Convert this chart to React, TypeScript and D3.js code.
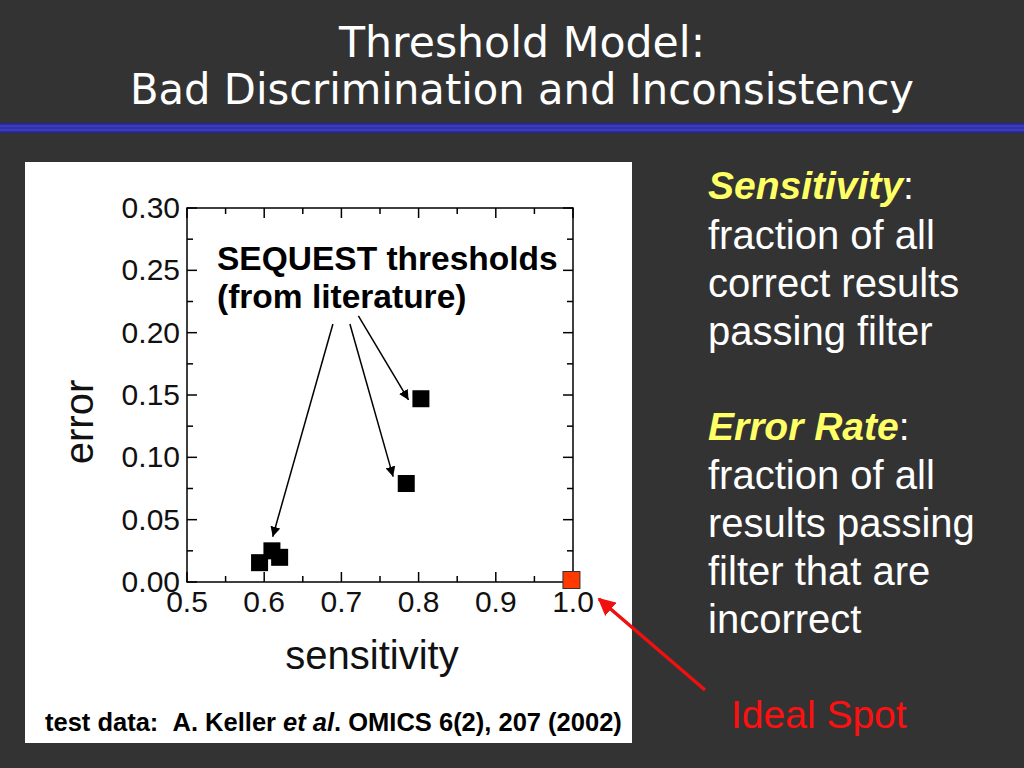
import React from "react";
import * as d3 from "d3";

const titleLines = ["Threshold Model:", "Bad Discrimination and Inconsistency"];
const xTicks = [0.5, 0.6, 0.7, 0.8, 0.9, 1.0];
const yTicks = [0.0, 0.05, 0.1, 0.15, 0.2, 0.25, 0.3];
const sequestSensitivity = [0.594, 0.61, 0.62, 0.784, 0.803];
const sequestError = [0.0155, 0.025, 0.0198, 0.079, 0.147];
const idealPoint = { sensitivity: 0.998, error: 0.0016 };
// annotation arrows in data coords: [fromX, fromY, toX, toY]
const arrowFrom = [[0.689, 0.207], [0.711, 0.207], [0.722, 0.2134]];
const arrowTo = [[0.611, 0.0363], [0.767, 0.0845], [0.787, 0.146]];
const annotationLines = ["SEQUEST thresholds", "(from literature)"];
const sensLines = ["fraction of all", "correct results", "passing filter"];
const errLines = ["fraction of all", "results passing", "filter that are", "incorrect"];

export default function App() {
  const W = 1024, H = 768;
  const left = 187, right = 573, top = 208, bottom = 582;
  const x = d3.scaleLinear().domain([0.5, 1.0]).range([left, right]);
  const y = d3.scaleLinear().domain([0, 0.3]).range([bottom, top]);
  const xMinor = d3.range(0.55, 1.0, 0.1);
  const yMinor = d3.range(0.025, 0.3, 0.05);
  const sans = "'Liberation Sans', Arial, sans-serif";
  const major = 10, minor = 6;
  const sq = 17;

  return (
    <div style={{ position: "fixed", left: 0, top: 0 }}>
      <svg width={W} height={H} style={{ display: "block" }}>
        <defs>
          <marker id="ah" viewBox="0 0 10 10" refX="10" refY="5" markerWidth="10" markerHeight="10" markerUnits="userSpaceOnUse" orient="auto">
            <path d="M0,0 L10,5 L0,10 z" fill="#000" />
          </marker>
          <marker id="ahr" viewBox="0 0 10 10" refX="9" refY="5" markerWidth="5" markerHeight="5" orient="auto">
            <path d="M0,0 L10,5 L0,10 z" fill="#f01010" />
          </marker>
        </defs>
        <rect x={0} y={0} width={W} height={H} fill="#333333" />
        {titleLines.map((t, i) => (
          <text key={i} x={522} y={57 + i * 47} textAnchor="middle" fill="#fff"
            fontFamily="'DejaVu Sans', sans-serif" fontSize={42}
            textLength={i === 0 ? 366 : 784} lengthAdjust="spacingAndGlyphs">{t}</text>
        ))}
        <rect x={0} y={122.7} width={W} height={10.6} fill="#2a2a78" />
        <rect x={0} y={124.7} width={W} height={6.6} fill="#3a3ac2" />
        <rect x={0} y={127.3} width={W} height={1.4} fill="#3030a0" />

        <rect x={25} y={162} width={607} height={581} fill="#fff" />

        {/* frame */}
        <rect x={left} y={top} width={right - left} height={bottom - top} fill="none" stroke="#000" strokeWidth={1.5} />
        {xTicks.map((v) => (
          <g key={"xt" + v}>
            <line x1={x(v)} x2={x(v)} y1={bottom} y2={bottom - major} stroke="#000" strokeWidth={1.5} />
            <line x1={x(v)} x2={x(v)} y1={top} y2={top + major} stroke="#000" strokeWidth={1.5} />
            <text x={x(v)} y={bottom + 30} textAnchor="middle" fontFamily={sans} fontSize={30} fill="#111">{v.toFixed(1)}</text>
          </g>
        ))}
        {xMinor.map((v) => (
          <g key={"xm" + v}>
            <line x1={x(v)} x2={x(v)} y1={bottom} y2={bottom - minor} stroke="#000" strokeWidth={1.5} />
            <line x1={x(v)} x2={x(v)} y1={top} y2={top + minor} stroke="#000" strokeWidth={1.5} />
          </g>
        ))}
        {yTicks.map((v) => (
          <g key={"yt" + v}>
            <line x1={left} x2={left + major} y1={y(v)} y2={y(v)} stroke="#000" strokeWidth={1.5} />
            <line x1={right} x2={right - major} y1={y(v)} y2={y(v)} stroke="#000" strokeWidth={1.5} />
            <text x={left - 7} y={y(v) + 10} textAnchor="end" fontFamily={sans} fontSize={30} fill="#111">{v.toFixed(2)}</text>
          </g>
        ))}
        {yMinor.map((v) => (
          <g key={"ym" + v}>
            <line x1={left} x2={left + minor} y1={y(v)} y2={y(v)} stroke="#000" strokeWidth={1.5} />
            <line x1={right} x2={right - minor} y1={y(v)} y2={y(v)} stroke="#000" strokeWidth={1.5} />
          </g>
        ))}
        <text x={372} y={669} textAnchor="middle" fontFamily={sans} fontSize={40} fill="#111">sensitivity</text>
        <text transform={`translate(93,422) rotate(-90)`} textAnchor="middle" fontFamily={sans} fontSize={40} fill="#111">error</text>

        {/* arrows */}
        {arrowFrom.map((f, i) => (
          <line key={"ar" + i} x1={x(f[0])} y1={y(f[1])} x2={x(arrowTo[i][0])} y2={y(arrowTo[i][1])}
            stroke="#000" strokeWidth={1.5} markerEnd="url(#ah)" />
        ))}
        {annotationLines.map((t, i) => (
          <text key={"an" + i} x={217} y={270 + i * 38} fontFamily={sans} fontWeight="bold" fontSize={33.5} fill="#000">{t}</text>
        ))}

        {sequestSensitivity.map((s, i) => (
          <rect key={"p" + i} x={x(s) - sq / 2} y={y(sequestError[i]) - sq / 2} width={sq} height={sq} fill="#000" />
        ))}
        <rect x={x(idealPoint.sensitivity) - sq / 2} y={y(idealPoint.error) - sq / 2} width={sq} height={sq}
          fill="#ff3a00" stroke="#333" strokeWidth={1} />

        <text x={45} y={731} fontFamily={sans} fontWeight="bold" fontSize={25.5} fill="#000">
          test data:{"\u00a0\u00a0"}A. Keller <tspan fontStyle="italic">et al</tspan>. OMICS 6(2), 207 (2002)
        </text>

        {/* right side text */}
        <text x={708} y={199} fontFamily={sans} fontSize={39}>
          <tspan fill="#ffff66" fontWeight="bold" fontStyle="italic">Sensitivity</tspan>
          <tspan fill="#fff">:</tspan>
        </text>
        {sensLines.map((t, i) => (
          <text key={"s" + i} x={708} y={249 + i * 48} fontFamily={sans} fontSize={40} fill="#fff">{t}</text>
        ))}
        <text x={708} y={440} fontFamily={sans} fontSize={39}>
          <tspan fill="#ffff66" fontWeight="bold" fontStyle="italic">Error Rate</tspan>
          <tspan fill="#fff">:</tspan>
        </text>
        {errLines.map((t, i) => (
          <text key={"e" + i} x={708} y={489 + i * 48} fontFamily={sans} fontSize={40} fill="#fff">{t}</text>
        ))}

        <line x1={705} y1={690} x2={599} y2={599} stroke="#f01010" strokeWidth={3.5} markerEnd="url(#ahr)" />
        <text x={731} y={728} fontFamily={sans} fontSize={39} fill="#ff1010">Ideal Spot</text>
      </svg>
    </div>
  );
}
